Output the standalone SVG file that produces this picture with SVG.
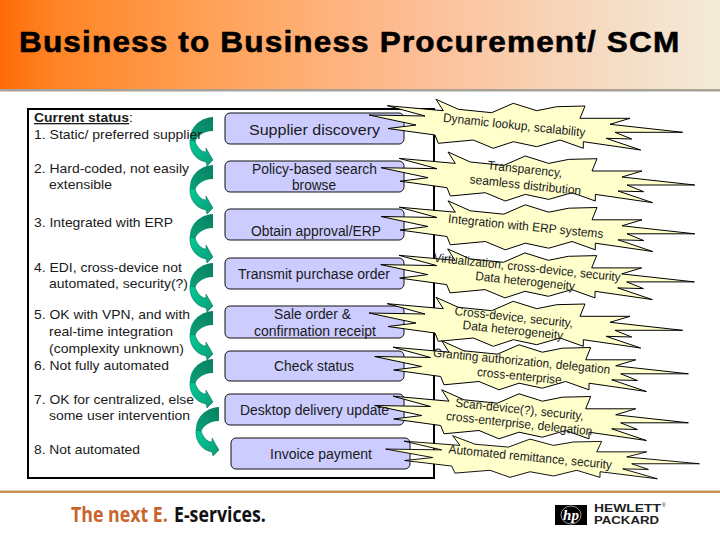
<svg xmlns="http://www.w3.org/2000/svg" xmlns:xlink="http://www.w3.org/1999/xlink" width="720" height="540" viewBox="0 0 720 540">
<style>
text{font-family:"Liberation Sans",Arial,sans-serif;fill:#1a1a1a}
.l{font-size:13px}
.n{font-size:14px}
.b{font-size:12.5px}
.box{fill:#ccccff;stroke:#111;stroke-width:1}
.burst{fill:#ffffcc;stroke:#000;stroke-width:1;stroke-linejoin:miter}
</style>
<defs>
<linearGradient id="hdr" x1="0" x2="1" y1="0" y2="0">
<stop offset="0" stop-color="#ff6a08"/><stop offset=".08" stop-color="#ff8526"/><stop offset=".3" stop-color="#ffa259"/><stop offset=".6" stop-color="#fdc09a"/><stop offset=".85" stop-color="#f5dcc4"/><stop offset="1" stop-color="#f4ebd8"/>
</linearGradient>
<linearGradient id="ad" x1="1" x2="0" y1="0" y2="1"><stop offset="0" stop-color="#07805f"/><stop offset="1" stop-color="#0aa37c"/></linearGradient>
<linearGradient id="ab" x1="0" x2="1" y1="0" y2="1"><stop offset="0" stop-color="#00cc99"/><stop offset="1" stop-color="#0a9c78"/></linearGradient>
<g id="arrow">
<path fill="url(#ad)" d="M213,117 C199,118 189,128 190,142 L195,143 C196,137 203,131 213,131 Z"/>
<path fill="url(#ab)" stroke="#06604a" stroke-width=".5" d="M190,140 C189,150 195,160 206,162 L207,166 L213,160 L206,148 L206,152 C201,152 197,147 195,141 Z"/>
</g>
<path id="burst" class="burst" d="M436,99.3 L458.3,109.3 L491.7,112.7 L513.3,103.3 L536.7,110.7 L556.7,106.7 L585,106 L580,118.3 L630,118.3 L610,124.3 L682.7,132.3 L615,132.3 L631.7,139 L606,138.3 L640.7,150 L583.3,141.7 L583.3,148.3 L560,140 L536.7,146.7 L513.3,141.7 L493.3,148.3 L473.3,140 L438.3,143.3 L435,135 L388,128.5 L416,125 L369,115 L425,116 L387.3,105.7 L443.3,110.7 Z"/>
</defs>
<rect width="720" height="540" fill="#fff"/>
<g id="header">
<rect width="720" height="89" fill="url(#hdr)"/>
<rect y="89" width="720" height="2.5" fill="#a8a29a"/>
<text transform="translate(19,52) scale(1.07,1)" textLength="617" style="font-weight:bold;font-size:29.5px;fill:#000;stroke:#000;stroke-width:.6">Business to Business Procurement/ SCM</text>
</g>
<rect id="frame" x="28" y="109" width="406" height="369" fill="#fff" stroke="#000" stroke-width="2"/>
<g id="connectors">
<use xlink:href="#arrow" href="#arrow"/>
<use xlink:href="#arrow" href="#arrow" y="48"/>
<use xlink:href="#arrow" href="#arrow" y="97"/>
<use xlink:href="#arrow" href="#arrow" y="146"/>
<use xlink:href="#arrow" href="#arrow" y="194"/>
<use xlink:href="#arrow" href="#arrow" y="242"/>
<use xlink:href="#arrow" href="#arrow" x="6" y="290"/>
</g>
<g id="status">
<text class="l" x="34" y="122" textLength="99" lengthAdjust="spacingAndGlyphs"><tspan font-weight="bold" text-decoration="underline">Current status</tspan>:</text>
<text class="l" x="34" y="139" textLength="168" lengthAdjust="spacingAndGlyphs">1. Static/ preferred supplier</text>
<text class="l" x="34" y="173" textLength="155" lengthAdjust="spacingAndGlyphs">2. Hard-coded, not easily</text>
<text class="l" x="49" y="189" textLength="63" lengthAdjust="spacingAndGlyphs">extensible</text>
<text class="l" x="34" y="227" textLength="139" lengthAdjust="spacingAndGlyphs">3. Integrated with ERP</text>
<text class="l" x="34" y="272" textLength="148" lengthAdjust="spacingAndGlyphs">4. EDI, cross-device not</text>
<text class="l" x="49" y="288" textLength="139" lengthAdjust="spacingAndGlyphs">automated, security(?)</text>
<text class="l" x="34" y="319" textLength="156" lengthAdjust="spacingAndGlyphs">5. OK with VPN, and with</text>
<text class="l" x="49" y="336" textLength="124" lengthAdjust="spacingAndGlyphs">real-time integration</text>
<text class="l" x="49" y="353" textLength="135" lengthAdjust="spacingAndGlyphs">(complexity unknown)</text>
<text class="l" x="34" y="370" textLength="135" lengthAdjust="spacingAndGlyphs">6. Not fully automated</text>
<text class="l" x="34" y="404" textLength="160" lengthAdjust="spacingAndGlyphs">7. OK for centralized, else</text>
<text class="l" x="49" y="420" textLength="141" lengthAdjust="spacingAndGlyphs">some user intervention</text>
<text class="l" x="34" y="454" textLength="106" lengthAdjust="spacingAndGlyphs">8. Not automated</text>
</g>
<g id="node-supplier"><rect class="box" x="225" y="113" width="179" height="31" rx="5"/></g>
<g id="node-policy"><rect class="box" x="225" y="161" width="179" height="31" rx="5"/></g>
<g id="node-approval"><rect class="box" x="225" y="209" width="179" height="31" rx="5"/></g>
<g id="node-transmit"><rect class="box" x="225" y="258" width="179" height="31" rx="5"/></g>
<g id="node-sale"><rect class="box" x="225" y="306" width="179" height="32" rx="5"/></g>
<g id="node-check"><rect class="box" x="225" y="351" width="179" height="30" rx="5"/></g>
<g id="node-desktop"><rect class="box" x="225" y="394" width="179" height="31" rx="5"/></g>
<g id="node-invoice"><rect class="box" x="231" y="438" width="179" height="31" rx="5"/></g>
<g id="burst-1"><use xlink:href="#burst" href="#burst"/></g>
<g id="burst-2"><use xlink:href="#burst" href="#burst" transform="translate(12,52.7)"/></g>
<g id="burst-3"><use xlink:href="#burst" href="#burst" transform="translate(12,101.5)"/></g>
<g id="burst-4"><use xlink:href="#burst" href="#burst" transform="translate(11.7,149.6)"/></g>
<g id="burst-5"><use xlink:href="#burst" href="#burst" transform="translate(0,198)"/></g>
<g id="burst-6"><use xlink:href="#burst" href="#burst" transform="translate(5.7,241.5)"/></g>
<g id="burst-7"><use xlink:href="#burst" href="#burst" transform="translate(5.7,290.5)"/></g>
<g id="burst-8"><use xlink:href="#burst" href="#burst" transform="translate(16.7,351.3) scale(1,.85)"/></g>
<g id="node-labels">
<text class="n" x="249" y="134.5" textLength="131" lengthAdjust="spacingAndGlyphs">Supplier discovery</text>
<text class="n" x="252" y="174" textLength="125" lengthAdjust="spacingAndGlyphs">Policy-based search</text>
<text class="n" x="292" y="190" textLength="44" lengthAdjust="spacingAndGlyphs">browse</text>
<text class="n" x="251" y="236" textLength="130" lengthAdjust="spacingAndGlyphs">Obtain approval/ERP</text>
<text class="n" x="238" y="279" textLength="152" lengthAdjust="spacingAndGlyphs">Transmit purchase order</text>
<text class="n" x="274" y="319" textLength="77" lengthAdjust="spacingAndGlyphs">Sale order &amp;</text>
<text class="n" x="254" y="336" textLength="122" lengthAdjust="spacingAndGlyphs">confirmation receipt</text>
<text class="n" x="274" y="371" textLength="80" lengthAdjust="spacingAndGlyphs">Check status</text>
<text class="n" x="240" y="415" textLength="149" lengthAdjust="spacingAndGlyphs">Desktop delivery update</text>
<text class="n" x="270" y="459" textLength="102" lengthAdjust="spacingAndGlyphs">Invoice payment</text>
</g>
<g id="burst-labels">
<text class="b" transform="translate(442.7,121.7) rotate(6)" textLength="143" lengthAdjust="spacingAndGlyphs">Dynamic lookup, scalability</text>
<text class="b" transform="translate(487.3,169.3) rotate(6)" textLength="75" lengthAdjust="spacingAndGlyphs">Transparency,</text>
<text class="b" transform="translate(469.3,183.3) rotate(6)" textLength="112" lengthAdjust="spacingAndGlyphs">seamless distribution</text>
<text class="b" transform="translate(447.7,222.7) rotate(5.7)" textLength="156" lengthAdjust="spacingAndGlyphs">Integration with ERP systems</text>
<text class="b" transform="translate(433.3,261.7) rotate(6)" textLength="188" lengthAdjust="spacingAndGlyphs">Virtualization, cross-device, security</text>
<text class="b" transform="translate(475,280) rotate(6)" textLength="100" lengthAdjust="spacingAndGlyphs">Data heterogeneity</text>
<text class="b" transform="translate(454.3,315) rotate(6)" textLength="119" lengthAdjust="spacingAndGlyphs">Cross-device, security,</text>
<text class="b" transform="translate(462.3,329) rotate(6)" textLength="101" lengthAdjust="spacingAndGlyphs">Data heterogeneity</text>
<text class="b" transform="translate(432.7,356.7) rotate(5.5)" textLength="178" lengthAdjust="spacingAndGlyphs">Granting authorization, delegation</text>
<text class="b" transform="translate(476.7,376) rotate(5.5)" textLength="85" lengthAdjust="spacingAndGlyphs">cross-enterprise</text>
<text class="b" transform="translate(455,406.7) rotate(6)" textLength="129" lengthAdjust="spacingAndGlyphs">Scan-device(?), security,</text>
<text class="b" transform="translate(445.7,420) rotate(6)" textLength="147" lengthAdjust="spacingAndGlyphs">cross-enterprise, delegation</text>
<text class="b" transform="translate(448.3,453.3) rotate(5.5)" textLength="164" lengthAdjust="spacingAndGlyphs">Automated remittance, security</text>
</g>
<g id="footer">
<rect y="490.5" width="720" height="2.5" fill="#c8935c"/>
<text transform="translate(71,522) scale(.82,1)" textLength="118" lengthAdjust="spacingAndGlyphs" style="font-family:'Open Sans',sans-serif;font-weight:bold;font-size:21px;fill:#c9642c">The next E.</text>
<text transform="translate(174,522) scale(.82,1)" textLength="112" lengthAdjust="spacingAndGlyphs" style="font-family:'Open Sans',sans-serif;font-weight:bold;font-size:21px;fill:#111">E-services.</text>
<rect x="555" y="505" width="32" height="20" fill="#000"/>
<ellipse cx="571" cy="515" rx="10" ry="9" fill="none" stroke="#fff" stroke-width=".6"/>
<text x="571" y="520" text-anchor="middle" style="font-family:'Liberation Serif',serif;font-style:italic;font-weight:bold;font-size:15px;fill:#fff">hp</text>
<text x="594" y="512" textLength="67" lengthAdjust="spacingAndGlyphs" style="font-weight:bold;font-size:10.5px;fill:#222">HEWLETT</text>
<text x="662" y="507" style="font-size:5px;fill:#222">®</text>
<text x="594" y="524" textLength="65" lengthAdjust="spacingAndGlyphs" style="font-weight:bold;font-size:10.5px;fill:#222">PACKARD</text>
</g>
</svg>
